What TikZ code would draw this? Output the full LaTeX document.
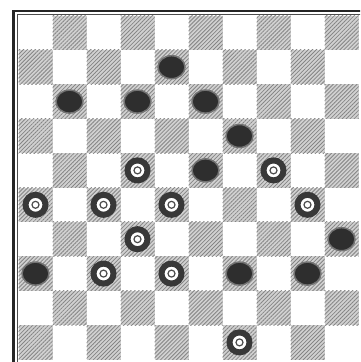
\documentclass[tikz,border=0pt]{standalone}
\usepackage{tikz}
\usetikzlibrary{patterns.meta,shapes.geometric}

\begin{document}
\begin{tikzpicture}[x=1pt,y=1pt,
    darksq/.style={fill=black!18,
        postaction={pattern={Lines[angle=45,distance=2.8pt,line width=0.8pt]},pattern color=black!48}},
    blackman/.style={ellipse,fill=black!82,draw=black!55,line width=1.5pt,minimum width=27pt,minimum height=23pt,inner sep=0pt},
    whiteman/.style={circle,fill=white,draw=black!78,line width=6pt,minimum size=20pt,inner sep=0pt,
        path picture={\draw[black!70,line width=1.2pt] (path picture bounding box.center) circle (3.5pt);}}]
    \useasboundingbox (0,0) rectangle (360,362);
    \clip (0,0) rectangle (360,362);
    \fill [white] (0,0) rectangle (360,362);
    % board frame
    \draw [line width=2.6pt,black!85] (13.5,-20) -- (13.5,351) -- (380,351);
    \draw [line width=0.6pt,black!70] (17,-20) -- (17,347.5) -- (380,347.5);
    % dark squares
    \foreach \r in {0,...,9}
        \foreach \c in {0,...,9} {
            \pgfmathtruncatemacro{\odd}{mod(\r+\c,2)}
            \ifnum\odd=1
                \path [darksq] (18.5+34*\c,346.4-34.4*\r) rectangle +(34,-34.4);
            \fi
        }
    % black men
    \foreach \r/\c in {1/4,2/1,2/3,2/5,3/6,4/5,6/9,7/0,7/6,7/8}
        \node [blackman] (b\r\c) at (35.5+34*\c,329.2-34.4*\r) {};
    % white men
    \foreach \r/\c in {4/3,4/7,5/0,5/2,5/4,5/8,6/3,7/2,7/4,9/6}
        \node [whiteman] (w\r\c) at (35.5+34*\c,329.2-34.4*\r) {};
\end{tikzpicture}
\end{document}
